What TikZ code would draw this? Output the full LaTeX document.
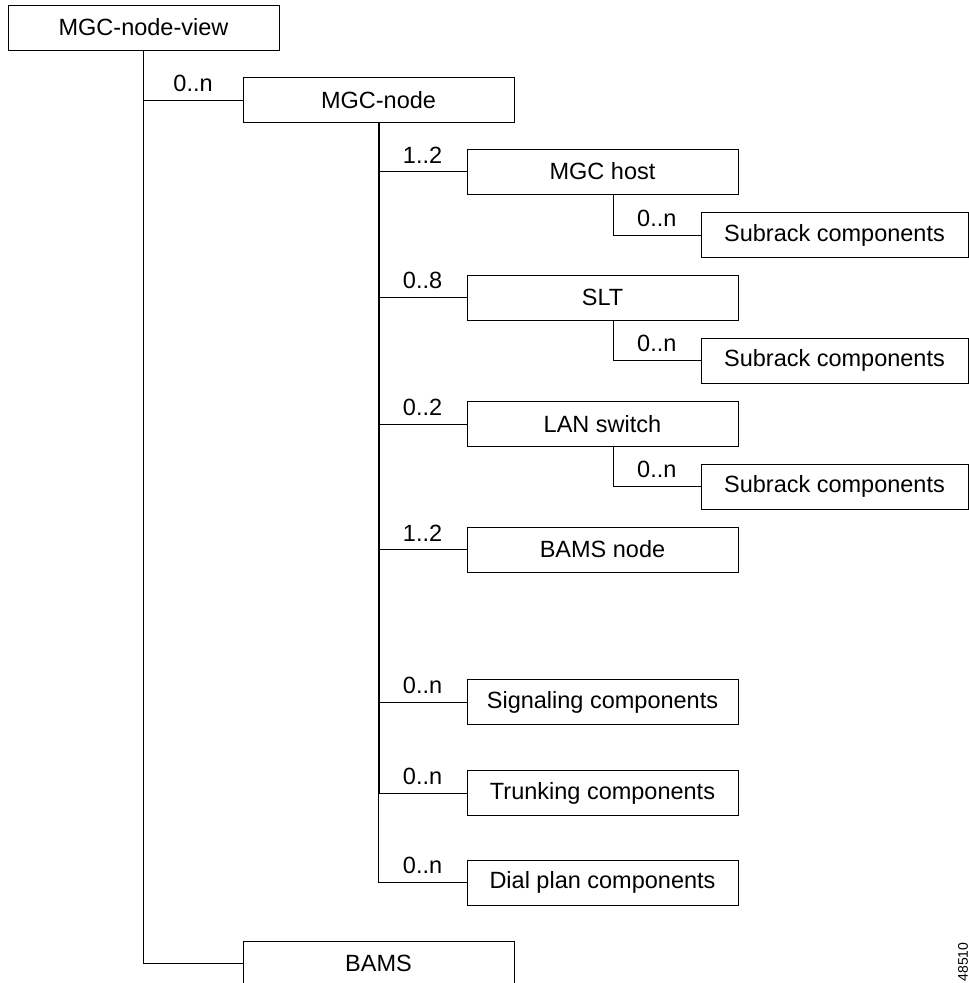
\documentclass[tikz,border=0pt]{standalone}
\usepackage{fontspec}
\setmainfont{Liberation Sans}
\usepackage{tikz}
\usetikzlibrary{positioning,calc}
\tikzset{
  box/.style    ={draw, line width=.8pt, inner sep=0pt, minimum width=271pt,
                  minimum height=45pt, font=\fontsize{23.5}{28}\selectfont},
  subbox/.style ={box, minimum width=267pt},
  mult/.style   ={font=\fontsize{23.5}{28}\selectfont, inner sep=3pt},
  link/.style   ={line width=.8pt},
  spine/.style  ={line width=2pt},
  figno/.style  ={rotate=90, inner sep=0pt, font=\fontsize{14}{16}\selectfont},
}
\begin{document}
\begin{tikzpicture}[x=1pt,y=-1pt]
  \useasboundingbox (0,0) rectangle (969,983);
  \node[box](view)      at (143.5,27.5){MGC-node-view};
  \node[box](mgcnode)   at (378.5,100){MGC-node};
  \node[box](host)      at (602.5,171.5){MGC host};
  \node[subbox](sub1)   at (834.5,235){Subrack components};
  \node[box](slt)       at (602.5,297.5){SLT};
  \node[subbox](sub2)   at (834.5,360.5){Subrack components};
  \node[box](lan)       at (602.5,424){LAN switch};
  \node[subbox](sub3)   at (834.5,486.5){Subrack components};
  \node[box](bamsnode)  at (602.5,549.5){BAMS node};
  \node[box](sig)       at (602.5,702){Signaling components};
  \node[box](trunk)     at (602.5,793){Trunking components};
  \node[box](dial)      at (602.5,882.5){Dial plan components};
  \node[box](bams)      at (378.5,963.5){BAMS};
  \node[figno](figid)   at (963,962){48510};
  \draw[link](view.south) |- (bams.west);
  \draw[link](view.south |- mgcnode.west) -- (mgcnode.west) node[mult,midway,above=5pt]{0..n};
  \draw[spine](mgcnode.south) -- (mgcnode.south |- trunk.west);
  \draw[link](mgcnode.south |- trunk.west) -- (mgcnode.south |- dial.west);
  \draw[link](mgcnode.south |- host.west) -- (host.west) node[mult,midway,above=5pt]{1..2};
  \draw[link](mgcnode.south |- slt.west) -- (slt.west) node[mult,midway,above=5pt]{0..8};
  \draw[link](mgcnode.south |- lan.west) -- (lan.west) node[mult,midway,above=5pt]{0..2};
  \draw[link](mgcnode.south |- bamsnode.west) -- (bamsnode.west) node[mult,midway,above=5pt]{1..2};
  \draw[link](mgcnode.south |- sig.west) -- (sig.west) node[mult,midway,above=5pt]{0..n};
  \draw[link](mgcnode.south |- trunk.west) -- (trunk.west) node[mult,midway,above=5pt]{0..n};
  \draw[link](mgcnode.south |- dial.west) -- (dial.west) node[mult,midway,above=5pt]{0..n};
  \draw[link]([xshift=10.5pt]host.south) |- (sub1.west) node[mult,pos=.75,above=5pt]{0..n};
  \draw[link]([xshift=10.5pt]slt.south) |- (sub2.west) node[mult,pos=.75,above=5pt]{0..n};
  \draw[link]([xshift=10.5pt]lan.south) |- (sub3.west) node[mult,pos=.75,above=5pt]{0..n};
\end{tikzpicture}
\end{document}
